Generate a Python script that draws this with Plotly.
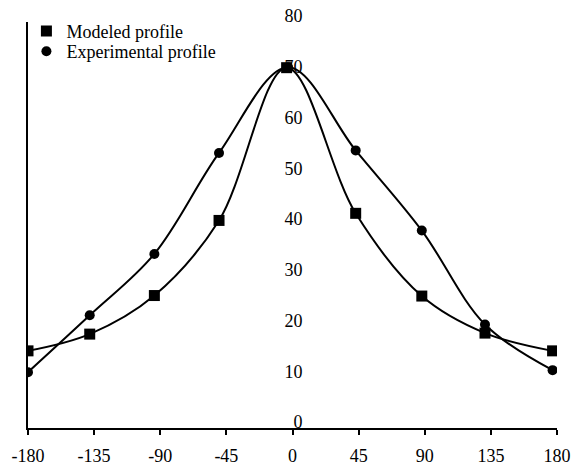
import plotly.graph_objects as go

angles_mod = [-180, -138, -94, -50, -4, 43, 88, 131, 177]
modeled = [15.2, 18.5, 26.1, 40.9, 71.0, 42.3, 26.0, 18.7, 15.2]
angles_exp = [-180, -138, -94, -50, -3, 43, 88, 131, 177]
experimental = [11.0, 22.2, 34.3, 54.2, 71.1, 54.7, 38.9, 20.4, 11.4]
x_ticks = [-180, -135, -90, -45, 0, 45, 90, 135, 180]
y_ticks = [0, 10, 20, 30, 40, 50, 60, 70, 80]

FONT = "Liberation Serif"
fig = go.Figure()

fig.add_trace(go.Scatter(x=angles_mod, y=modeled, mode="lines", yaxis="y2",
                         line=dict(color="black", width=2, shape="spline", smoothing=1.0),
                         showlegend=False, hoverinfo="skip"))
fig.add_trace(go.Scatter(x=angles_exp, y=experimental, mode="lines", yaxis="y2",
                         line=dict(color="black", width=2, shape="spline", smoothing=1.0),
                         showlegend=False, hoverinfo="skip"))
fig.add_trace(go.Scatter(x=angles_mod, y=modeled, mode="markers", name="Modeled profile",
                         yaxis="y2", legend="legend",
                         marker=dict(symbol="square", size=11, color="black")))
fig.add_trace(go.Scatter(x=angles_exp, y=experimental, mode="markers", name="Experimental profile",
                         yaxis="y2", legend="legend2",
                         marker=dict(symbol="circle", size=10, color="black")))
# invisible anchor trace for primary y axis
fig.add_trace(go.Scatter(x=[None], y=[None], mode="markers", showlegend=False, hoverinfo="skip"))

leg = dict(xanchor="left", yanchor="middle", bgcolor="rgba(0,0,0,0)",
           font=dict(family=FONT, size=18), itemwidth=30)

fig.update_layout(
    width=572, height=468,
    margin=dict(l=28, r=15, t=22, b=40),
    paper_bgcolor="white", plot_bgcolor="white",
    font=dict(family=FONT, size=15, color="black"),
    showlegend=True,
    legend=dict(x=-0.003, y=0.977, **leg),
    legend2=dict(x=-0.003, y=0.927, **leg),
    xaxis=dict(range=[-180, 180], tickvals=x_ticks, ticktext=[str(v) for v in x_ticks],
               showgrid=False, zeroline=False, showline=True, linecolor="black", linewidth=2,
               ticks="outside", ticklen=5, tickwidth=1.5, tickcolor="black", automargin=False,
               tickfont=dict(family=FONT, size=18), ticklabelstandoff=5),
    yaxis=dict(range=[0, 80], showgrid=False, zeroline=False, showline=True, automargin=False,
               linecolor="black", linewidth=2, ticks="", showticklabels=False),
    yaxis2=dict(range=[0, 80], overlaying="y", anchor="free", position=0.5, side="left",
                tickvals=y_ticks, ticktext=[str(v) for v in y_ticks], automargin=False,
                showgrid=False, zeroline=False, showline=False, ticks="",
                tickfont=dict(family=FONT, size=18), layer="below traces",
                ticklabelstandoff=-10, ticklabelshift=-6),
)

fig.write_html("out.html")
